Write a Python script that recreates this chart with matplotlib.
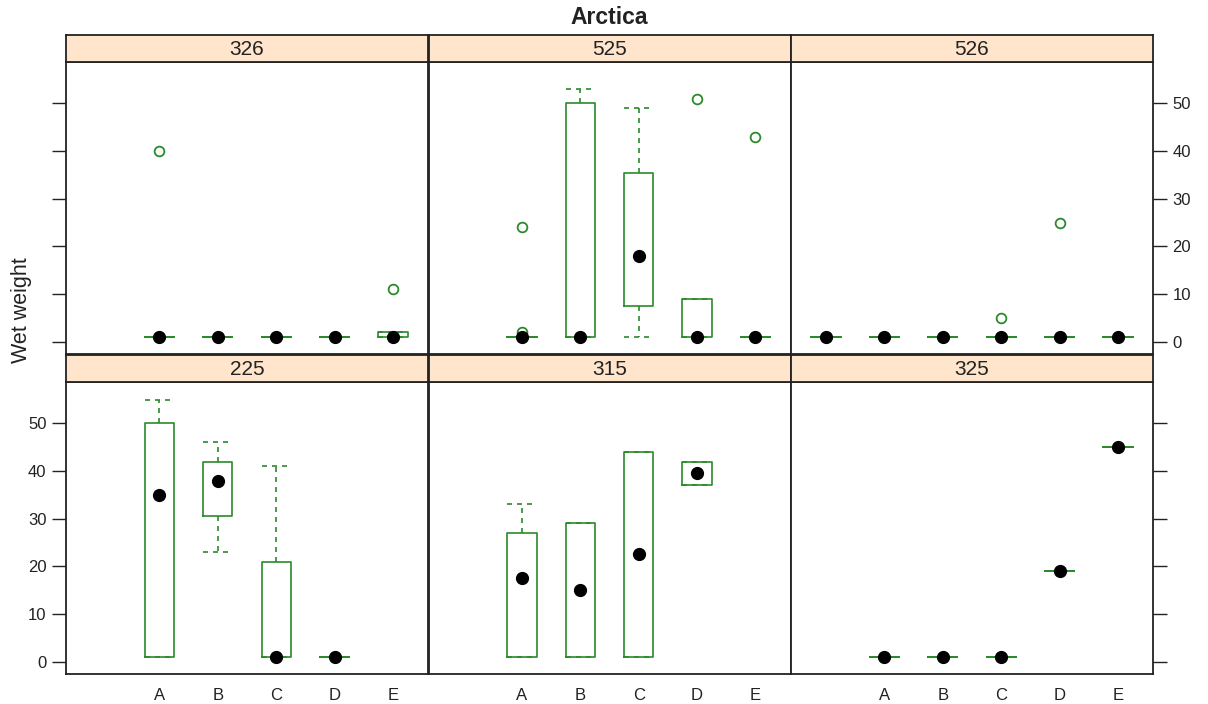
import matplotlib
matplotlib.use("Agg")
import matplotlib.pyplot as plt

plt.rcParams['font.family'] = ['Liberation Sans', 'DejaVu Sans']

CATS = ["", "A", "B", "C", "D", "E"]
PANELS = ["326", "525", "526", "225", "315", "325"]

# (group, whisker low, Q1, median, Q3, whisker high, outliers)
stats_326 = [
    ("A", 1, 1, 1, 1, 1, [40]),
    ("B", 1, 1, 1, 1, 1, []),
    ("C", 1, 1, 1, 1, 1, []),
    ("D", 1, 1, 1, 1, 1, []),
    ("E", 1, 1, 1, 2, 2, [11]),
]
stats_525 = [
    ("A", 1, 1, 1, 1, 1, [24, 2]),
    ("B", 1, 1, 1, 50, 53, []),
    ("C", 1, 7.5, 18, 35.5, 49, []),
    ("D", 1, 1, 1, 9, 9, [51]),
    ("E", 1, 1, 1, 1, 1, [43]),
]
stats_526 = [
    ("", 1, 1, 1, 1, 1, []),
    ("A", 1, 1, 1, 1, 1, []),
    ("B", 1, 1, 1, 1, 1, []),
    ("C", 1, 1, 1, 1, 1, [5]),
    ("D", 1, 1, 1, 1, 1, [25]),
    ("E", 1, 1, 1, 1, 1, []),
]
stats_225 = [
    ("A", 1, 1, 35, 50, 55, []),
    ("B", 23, 30.5, 38, 42, 46, []),
    ("C", 1, 1, 1, 21, 41, []),
    ("D", 1, 1, 1, 1, 1, []),
]
stats_315 = [
    ("A", 1, 1, 17.5, 27, 33, []),
    ("B", 1, 1, 15, 29, 29, []),
    ("C", 1, 1, 22.5, 44, 44, []),
    ("D", 37, 37, 39.5, 42, 42, []),
]
stats_325 = [
    ("A", 1, 1, 1, 1, 1, []),
    ("B", 1, 1, 1, 1, 1, []),
    ("C", 1, 1, 1, 1, 1, []),
    ("D", 19, 19, 19, 19, 19, []),
    ("E", 45, 45, 45, 45, 45, []),
]
ALL_STATS = [stats_326, stats_525, stats_526, stats_225, stats_315, stats_325]

GREEN = "#2b8a2b"
STRIP = "#ffe5cc"
TEXT = "#222222"
W, H = 1208, 704


def px_axes(fig, x0, y0, w, h):
    # pixel box measured from the top-left corner
    return fig.add_axes([x0 / W, 1 - (y0 + h) / H, w / W, h / H])


fig = plt.figure(figsize=(W / 100, H / 100), dpi=100)

col_x = [66, 428.5, 791]
panel_w = 362
row_y = [62, 382]
panel_h = 292
strip_h = 27

for k, (name, stats) in enumerate(zip(PANELS, ALL_STATS)):
    row, col = divmod(k, 3)
    ax = px_axes(fig, col_x[col], row_y[row], panel_w, panel_h)

    pos = [CATS.index(s[0]) + 1 for s in stats]
    bxp_stats = [dict(whislo=s[1], q1=s[2], med=s[3], q3=s[4], whishi=s[5],
                      fliers=s[6]) for s in stats]
    ax.bxp(bxp_stats, positions=pos, widths=0.5, capwidths=0.5,
           boxprops=dict(color=GREEN, linewidth=1.2),
           whiskerprops=dict(color=GREEN, linewidth=1.2, linestyle=(0, (3, 3))),
           capprops=dict(color=GREEN, linewidth=1.2, linestyle=(0, (3, 3))),
           medianprops=dict(linestyle='none'),
           flierprops=dict(marker='o', markerfacecolor='none',
                           markeredgecolor=GREEN, markersize=7,
                           markeredgewidth=1.3),
           manage_ticks=False)
    ax.plot(pos, [s[3] for s in stats], 'o', color='black', markersize=8.5,
            zorder=5)

    ax.set_xlim(0.4, 6.6)
    ax.set_ylim(-2.6, 58.7)
    for sp in ax.spines.values():
        sp.set_linewidth(1.3)
        sp.set_color(TEXT)

    ax.set_yticks([0, 10, 20, 30, 40, 50])
    ax.tick_params(axis='y', direction='out', length=10, width=1,
                   colors=TEXT, labelsize=12, pad=4,
                   left=(col == 0), right=(col == 2),
                   labelleft=(col == 0 and row == 1),
                   labelright=(col == 2 and row == 0))

    ax.set_xticks(range(1, 7))
    if row == 1:
        ax.set_xticklabels(CATS)
        ax.tick_params(axis='x', length=0, labelsize=12, pad=10,
                       labelcolor=TEXT)
    else:
        ax.tick_params(axis='x', length=0, labelbottom=False)

    # strip with panel name
    sx = px_axes(fig, col_x[col], row_y[row] - strip_h, panel_w, strip_h)
    sx.set_facecolor(STRIP)
    sx.set_xticks([])
    sx.set_yticks([])
    for sp in sx.spines.values():
        sp.set_linewidth(1.3)
        sp.set_color(TEXT)
    sx.text(0.5, 0.45, name, ha='center', va='center', fontsize=15,
            color=TEXT, transform=sx.transAxes)

fig.text(609 / W, 1 - 18 / H, "Arctica", ha='center', va='center',
         fontsize=16.5, fontweight='bold', color=TEXT)
fig.text(22 / W, 1 - 310 / H, "Wet weight", ha='center', va='center',
         rotation=90, fontsize=15.5, color=TEXT)

fig.savefig("out.png", dpi=100)
